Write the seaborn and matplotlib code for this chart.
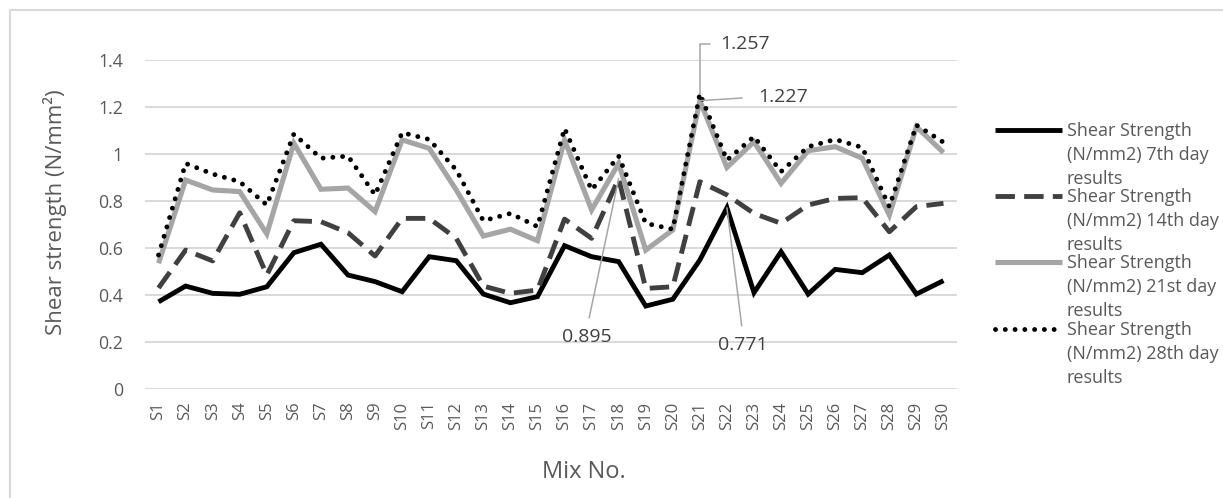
import matplotlib
matplotlib.use("Agg")
import matplotlib.pyplot as plt
from matplotlib.lines import Line2D
import pandas as pd
import seaborn as sns

# ---- data -------------------------------------------------------------
mixes = [f"S{i}" for i in range(1, 31)]

day7 = [0.371, 0.438, 0.407, 0.403, 0.435, 0.580, 0.616, 0.485, 0.457, 0.414,
        0.563, 0.546, 0.404, 0.367, 0.393, 0.610, 0.563, 0.542, 0.353, 0.382,
        0.549, 0.771, 0.410, 0.584, 0.404, 0.509, 0.495, 0.570, 0.404, 0.461]
day14 = [0.430, 0.591, 0.545, 0.750, 0.485, 0.716, 0.712, 0.665, 0.566, 0.726,
         0.726, 0.641, 0.438, 0.407, 0.421, 0.723, 0.641, 0.895, 0.428, 0.435,
         0.882, 0.826, 0.747, 0.705, 0.783, 0.811, 0.814, 0.669, 0.776, 0.790]
day21 = [0.535, 0.889, 0.847, 0.840, 0.660, 1.046, 0.850, 0.855, 0.755, 1.060,
         1.024, 0.847, 0.651, 0.680, 0.631, 1.060, 0.762, 0.960, 0.591, 0.677,
         1.227, 0.943, 1.052, 0.875, 1.014, 1.031, 0.982, 0.740, 1.116, 1.006]
day28 = [0.570, 0.960, 0.915, 0.882, 0.783, 1.085, 0.982, 0.991, 0.826, 1.091,
         1.062, 0.932, 0.716, 0.747, 0.691, 1.109, 0.847, 0.991, 0.705, 0.680,
         1.257, 0.974, 1.074, 0.925, 1.031, 1.062, 1.028, 0.776, 1.123, 1.050]

series_labels = [
    "Shear Strength\n(N/mm2) 7th day\nresults",
    "Shear Strength\n(N/mm2) 14th day\nresults",
    "Shear Strength\n(N/mm2) 21st day\nresults",
    "Shear Strength\n(N/mm2) 28th day\nresults",
]
y_ticks = [0, 0.2, 0.4, 0.6, 0.8, 1.0, 1.2, 1.4]
y_tick_labels = ["0", "0.2", "0.4", "0.6", "0.8", "1", "1.2", "1.4"]

# ---- styling ----------------------------------------------------------
sns.set_theme(style="white")
plt.rcParams["font.family"] = ["Open Sans", "DejaVu Sans"]
TXT = "#595959"
GRID = "#d9d9d9"

colors = ["#000000", "#404040", "#a5a5a5", "#000000"]
widths = [3.5, 3.5, 3.7, 3.5]
dash_patterns = [None, (4.0, 1.9), None, (0.01, 2.0)]

W, H = 1223, 498
fig = plt.figure(figsize=(W / 100, H / 100), dpi=100)
ax = fig.add_axes([145 / W, 1 - 389 / H, (957 - 145) / W, (389 - 60) / H])

# long-form table for seaborn
all_series = [day7, day14, day21, day28]
frames = []
for label, vals in zip(series_labels, all_series):
    frames.append(pd.DataFrame({"pos": range(len(mixes)), "value": vals,
                                "series": label}))
df = pd.concat(frames, ignore_index=True)

for label, col, lw, dp in zip(series_labels, colors, widths, dash_patterns):
    sub = df[df["series"] == label]
    sns.lineplot(data=sub, x="pos", y="value", ax=ax, color=col,
                 linewidth=lw, sort=False, errorbar=None, legend=False)
    line = ax.lines[-1]
    line.set_solid_capstyle("butt")
    line.set_solid_joinstyle("miter")
    if dp is not None:
        line.set_dashes(dp)
        line.set_dash_capstyle("round" if dp[0] < 0.1 else "butt")

# axes
ax.set_xlim(-0.5, len(mixes) - 0.5)
ax.set_ylim(0, 1.4)
ax.set_yticks(y_ticks)
ax.set_yticklabels(y_tick_labels)
ax.set_xticks(range(len(mixes)))
ax.set_xticklabels(mixes, rotation=90)
ax.tick_params(axis="y", length=0, pad=16, labelsize=12.8, labelcolor=TXT)
ax.tick_params(axis="x", length=0, pad=9, labelsize=12, labelcolor=TXT)
ax.grid(axis="y", color=GRID, linewidth=1.4)
ax.set_axisbelow(True)
for s in ax.spines.values():
    s.set_visible(False)
ax.set_xlabel("")
ax.set_ylabel("")

fig.text(55 / W, 1 - 212 / H, "Shear strength (N/mm²)", rotation=90,
         ha="center", va="center", fontsize=16, color=TXT)
fig.text(584 / W, 1 - 472 / H, "Mix No.", ha="center", va="center",
         fontsize=17, color=TXT)

# value call-outs
LEAD = "#a6a6a6"
ANN = "#404040"
callouts = [
    (20, day28[20], (720, H - 44), "left", (0, 0.5), "angle,angleA=0,angleB=90,rad=0", 5),
    (20, day21[20], (758, H - 97), "left", (0, 0.5), "arc3", 9),
    (17, day14[17], (587, H - 337), "center", (0.5, 1), "arc3", 5),
    (21, day7[21], (743, H - 345), "center", (0.5, 1), "arc3", 5),
]
for xi, val, txy, ha, rp, cs, shr in callouts:
    ax.annotate(f"{val:.3f}", xy=(xi, val), xycoords="data", xytext=txy,
                textcoords="figure pixels", ha=ha, va="center", fontsize=14,
                color=ANN, annotation_clip=False,
                arrowprops=dict(arrowstyle="-", color=LEAD, lw=1.1,
                                connectionstyle=cs, relpos=rp,
                                shrinkA=shr, shrinkB=0))

# legend drawn beside the plot
leg_y = [130, 196, 262, 329]
for label, col, lw, dp, yy in zip(series_labels, colors, widths, dash_patterns, leg_y):
    yf = 1 - yy / H
    ln = Line2D([995 / W, 1062 / W], [yf, yf], transform=fig.transFigure,
                color=col, linewidth=lw, solid_capstyle="butt")
    if dp is not None:
        ln.set_dashes(dp)
        ln.set_dash_capstyle("round" if dp[0] < 0.1 else "butt")
    fig.add_artist(ln)
    fig.text(1067 / W, 1 - (yy - 8) / H, label, ha="left", va="top",
             fontsize=13, color=TXT, linespacing=1.42)

# chart frame
fig.add_artist(Line2D([10 / W, 10 / W], [0, 1 - 10 / H], transform=fig.transFigure,
                      color=GRID, linewidth=1.5))
fig.add_artist(Line2D([10 / W, 1], [1 - 10 / H, 1 - 10 / H], transform=fig.transFigure,
                      color=GRID, linewidth=1.5))

fig.savefig("out.png", dpi=100, facecolor="white")
